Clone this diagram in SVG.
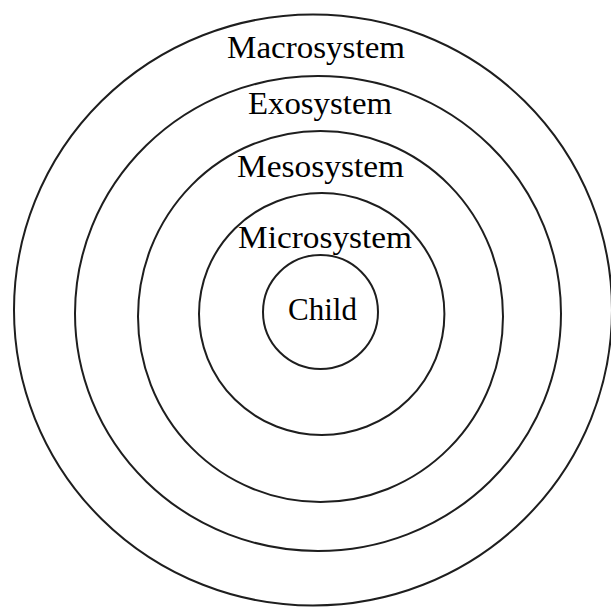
<svg xmlns="http://www.w3.org/2000/svg" width="611" height="608" viewBox="0 0 611 608">
  <defs>
    <style>
      .ring { fill: none; stroke: #1e1e1e; stroke-width: 2; }
      .lbl { font-family: "Liberation Serif", "DejaVu Serif", serif; font-size: 32px; fill: #000; }
    </style>
  </defs>
  <rect width="611" height="608" fill="#fff"/>
  <g id="macrosystem">
    <ellipse class="ring" cx="313" cy="310" rx="299" ry="295.5"/>
    <text class="lbl" x="227" y="58" textLength="178" lengthAdjust="spacingAndGlyphs">Macrosystem</text>
  </g>
  <g id="exosystem">
    <ellipse class="ring" cx="318" cy="313.5" rx="243" ry="237.5"/>
    <text class="lbl" x="248" y="114" textLength="144" lengthAdjust="spacingAndGlyphs">Exosystem</text>
  </g>
  <g id="mesosystem">
    <ellipse class="ring" cx="320.5" cy="316.5" rx="182.5" ry="185.5"/>
    <text class="lbl" x="237" y="177" textLength="167" lengthAdjust="spacingAndGlyphs">Mesosystem</text>
  </g>
  <g id="microsystem">
    <ellipse class="ring" cx="321.7" cy="314" rx="122.7" ry="121"/>
    <text class="lbl" x="238" y="248" textLength="174" lengthAdjust="spacingAndGlyphs">Microsystem</text>
  </g>
  <g id="child">
    <ellipse class="ring" cx="320.5" cy="312" rx="57.5" ry="57"/>
    <text class="lbl" x="288" y="320" textLength="69" lengthAdjust="spacingAndGlyphs">Child</text>
  </g>
</svg>
